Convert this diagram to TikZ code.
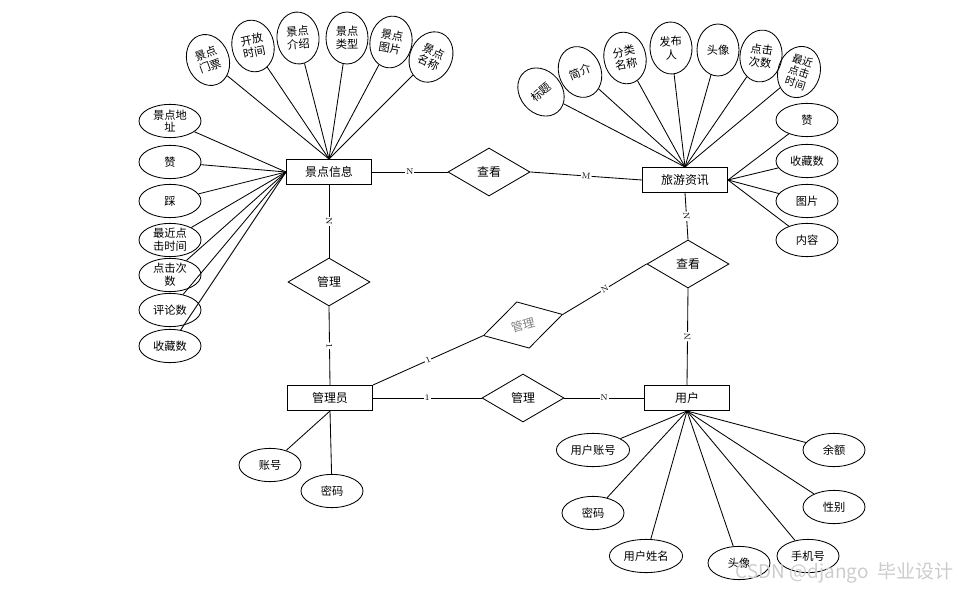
\documentclass[tikz,border=0pt]{standalone}
\usepackage{fontspec}
\newfontfamily\cjk{Noto Sans CJK SC}
\newcommand\cjkfont{\cjk\fontsize{8.5}{10.5}\selectfont}
\newcommand\cjksmall{\cjk\fontsize{8}{9.2}\selectfont}
\usetikzlibrary{positioning, shapes.geometric}

\begin{document}
\begin{tikzpicture}[
        x=0.025cm, y=-0.025cm,
        entity/.style={rectangle, draw, line width=0.7pt, minimum width=2.125cm, minimum height=0.625cm, font=\cjkfont},
        rel/.style={diamond, draw, line width=0.6pt, minimum width=2.05cm, minimum height=1.2cm, inner sep=0pt, font=\cjkfont},
        vattr/.style={ellipse, draw, line width=0.6pt, minimum width=1.05cm, minimum height=1.3cm, inner sep=-1pt, align=center, font=\cjksmall},
        hattr/.style={ellipse, draw, line width=0.6pt, minimum width=1.55cm, minimum height=0.83cm, inner sep=0pt, align=center, font=\cjksmall},
        conn/.style={line width=0.6pt},
        card/.style={fill=white, inner sep=0.6pt, font=\fontsize{6}{6}\selectfont, sloped},
    ]
        \useasboundingbox (0,0) rectangle (961,591);

        % Entities
        \node[entity] (jdxx) at (329,172) {景点信息};
        \node[entity] (lyzx) at (685,180) {旅游资讯};
        \node[entity] (gly) at (330,398) {管理员};
        \node[entity] (yh) at (687,398) {用户};

        % Relationships
        \node[rel] (ck1) at (489,172) {查看};
        \node[rel] (gl1) at (329,282) {管理};
        \node[rel] (ck2) at (688,264) {查看};
        \node[rel, rotate=15, text=gray] (gl2) at (523,325) {管理};
        \node[rel] (gl3) at (523,398) {管理};

        % Attributes of 景点信息 (top)
        \node[vattr, rotate=20] (jdmp) at (208,60) {景点\\门票};
        \node[vattr, rotate=12] (kfsj) at (253,46) {开放\\时间};
        \node[vattr, rotate=5] (jdjs) at (298,38) {景点\\介绍};
        \node[vattr] (jdlx) at (347,38) {景点\\类型};
        \node[vattr, rotate=-10] (jdtp) at (391,42) {景点\\图片};
        \node[vattr, rotate=-25] (jdmc) at (431,57) {景点\\名称};

        % Attributes of 景点信息 (left)
        \node[hattr] (jddz) at (170,121) {景点地\\址};
        \node[hattr] (jdzan) at (170,162) {赞};
        \node[hattr] (jdcai) at (170,201) {踩};
        \node[hattr] (jdzj) at (170,240) {最近点\\击时间};
        \node[hattr] (jdcs) at (170,275) {点击次\\数};
        \node[hattr] (jdpl) at (170,310) {评论数};
        \node[hattr] (jdsc) at (170,346) {收藏数};

        % Attributes of 旅游资讯 (top)
        \node[vattr, rotate=40] (zxbt) at (541,92) {标题};
        \node[vattr, rotate=22] (zxjj) at (580,72) {简介};
        \node[vattr, rotate=12] (zxfl) at (625,58) {分类\\名称};
        \node[vattr, rotate=3] (zxfb) at (671,48) {发布\\人};
        \node[vattr] (zxtx) at (718,50) {头像};
        \node[vattr, rotate=-8] (zxcs) at (761,56) {点击\\次数};
        \node[vattr, rotate=-18, inner sep=-4pt, font=\cjk\fontsize{7.5}{8.4}\selectfont] (zxzj) at (799,72) {最近\\点击\\时间};

        % Attributes of 旅游资讯 (right)
        \node[hattr] (zxzan) at (807,120) {赞};
        \node[hattr] (zxsc) at (807,161) {收藏数};
        \node[hattr] (zxtp) at (807,201) {图片};
        \node[hattr] (zxnr) at (807,240) {内容};

        % Attributes of 管理员
        \node[hattr] (glzh) at (270,465) {账号};
        \node[hattr] (glmm) at (332,491) {密码};

        % Attributes of 用户
        \node[hattr, minimum width=1.83cm] (yhzh) at (593,450) {用户账号};
        \node[hattr] (yhmm) at (593,513) {密码};
        \node[hattr, minimum width=1.83cm] (yhxm) at (646,556) {用户姓名};
        \node[hattr] (yhtx) at (739,563) {头像};
        \node[hattr] (yhsj) at (808,556) {手机号};
        \node[hattr] (yhxb) at (834,507) {性别};
        \node[hattr] (yhye) at (834,450) {余额};

        % Attribute lines
        \foreach \a in {jdmp, kfsj, jdjs, jdlx, jdtp, jdmc}
            \draw[conn] (\a) -- (jdxx.north);
        \foreach \a in {jddz, jdzan, jdcai, jdzj, jdcs, jdpl, jdsc}
            \draw[conn] (\a) -- (jdxx.west);
        \foreach \a in {zxbt, zxjj, zxfl, zxfb, zxtx, zxcs, zxzj}
            \draw[conn] (\a) -- (lyzx.north);
        \foreach \a in {zxzan, zxsc, zxtp, zxnr}
            \draw[conn] (\a) -- (lyzx.east);
        \foreach \a in {glzh, glmm}
            \draw[conn] (\a) -- (gly.south);
        \foreach \a in {yhzh, yhmm, yhxm, yhtx, yhsj, yhxb, yhye}
            \draw[conn] (\a) -- (yh.south);

        % Relationship lines
        \draw[conn] (jdxx.east) -- node[card] {N} (ck1.west);
        \draw[conn] (ck1.east) -- node[card] {M} (lyzx.west);
        \draw[conn] (jdxx.south) -- node[card] {N} (gl1.north);
        \draw[conn] (gl1.south) -- node[card] {1} (gly.north);
        \draw[conn] (lyzx.south) -- node[card] {N} (ck2.north);
        \draw[conn] (ck2.south) -- node[card] {N} (yh.north);
        \draw[conn] (ck2.west) -- node[card] {N} (gl2.east);
        \draw[conn] (gl2.west) -- node[card] {1} (gly.north east);
        \draw[conn] (gly.east) -- node[card] {1} (gl3.west);
        \draw[conn] (gl3.east) -- node[card] {N} (yh.west);

        % Watermark
        \node[font=\cjk\fontsize{13.5}{14}\selectfont, text=gray!40, anchor=east] (wm) at (958,573) {CSDN @django\ \ 毕业设计};
    \end{tikzpicture}
\end{document}
